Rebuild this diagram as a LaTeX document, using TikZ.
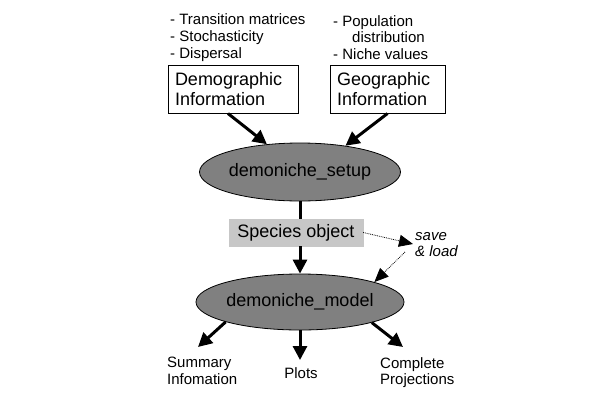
\documentclass[tikz,border=0pt]{standalone}
\usepackage{fontspec}
\setmainfont{Liberation Sans}
\usetikzlibrary{arrows.meta,shapes.geometric,calc}
\begin{document}
\begin{tikzpicture}[x=1pt,y=-1pt,
  big/.style={font=\fontsize{18}{19.5}\selectfont},
  small/.style={font=\fontsize{15}{16.8}\selectfont},
  infobox/.style={draw,line width=1pt,big,align=left,inner xsep=7pt,inner ysep=0pt,minimum height=48pt,anchor=center},
  func/.style={ellipse,draw,line width=0.8pt,fill=gray!100!white,fill=black!50,big,inner sep=0pt,minimum width=176pt,minimum height=58pt},
  arr/.style={line width=3pt,-{Triangle[length=14pt,width=14pt]}},
  darr/.style={densely dotted,line width=0.8pt,-{Triangle[length=14pt,width=12pt]}},
  lbl/.style={small,align=left,inner sep=0pt}
]
\useasboundingbox (0,0) rectangle (600,400);
% bullet lists
\node[lbl,anchor=west] (dlist) at (170,37.5) {- Transition matrices\\- Stochasticity\\- Dispersal};
\node[lbl,anchor=west] (glist) at (333,37.5) {- Population\\\hspace*{19pt}distribution\\- Niche values};
% info boxes
\node[infobox,text width=116pt] (demo) at (233,89) {Demographic\\Information};
\node[infobox,text width=101pt] (geo) at (387.5,89) {Geographic\\Information};
% functions
\node[func] (setup) at (300,172) {demoniche\_setup};
\node[draw=black!22,fill=black!22,big,minimum width=134pt,minimum height=27pt,inner sep=0pt] (species) at (296,232.5) {Species object};
\node[func,minimum height=56pt] (model) at (300,302) {demoniche\_model};
% save & load
\node[small,font=\fontsize{15}{16}\selectfont\itshape,align=left,inner sep=0pt,anchor=west] (saveload) at (415,245) {save\\\& load};
\coordinate (sl2) at (405,252);
% outputs
\node[lbl,anchor=north west] (summary) at (167,357) {Summary\\Infomation};
\node[lbl] (plots) at (301,373) {Plots};
\node[lbl,anchor=north west] (complete) at (380,357) {Complete\\Projections};
\coordinate (tsum) at (198,347);
\coordinate (tplot) at (300,360);
\coordinate (tcomp) at (403,347);
% connectors
\draw[arr] ($(demo.south)+(-5,0)$) -- (setup.140);
\draw[arr] (geo.south) -- (setup.30);
\draw[line width=3pt] (setup.south) -- (species.north -| setup.south);
\draw[arr] (species.south -| model.north) -- (model.north);
\draw[darr] (species.east) -- ($(saveload.west)+(-2,-1)$);
\draw[darr] (sl2) -- (model.15);
\draw[arr] (model.195) -- (tsum);
\draw[arr] (model.south) -- (tplot);
\draw[arr] (model.344) -- (tcomp);
\end{tikzpicture}
\end{document}
